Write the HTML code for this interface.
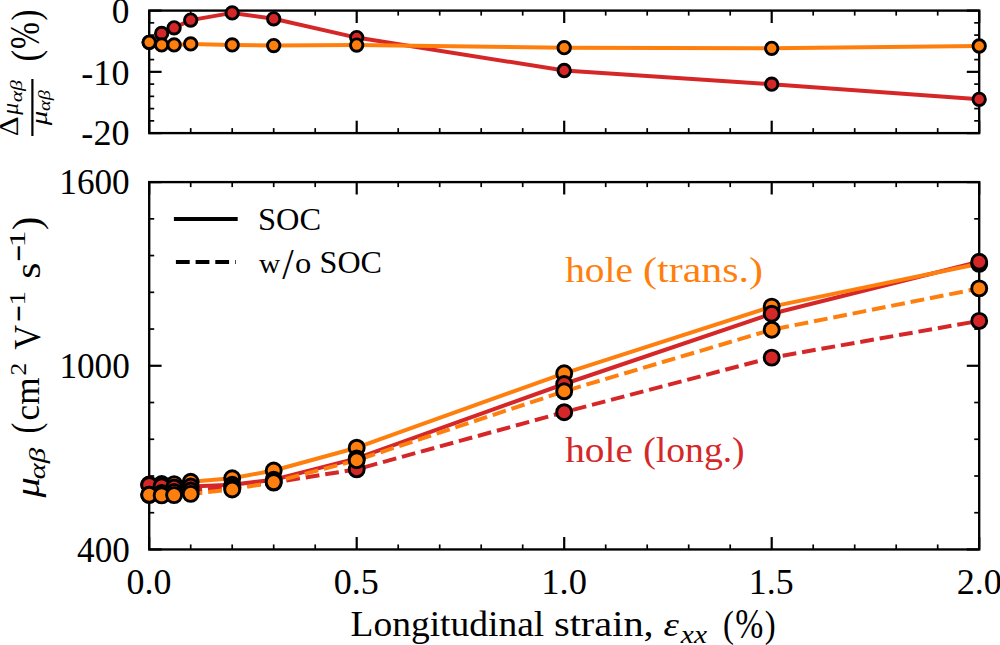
<!DOCTYPE html>
<html><head><meta charset="utf-8"><style>
html,body{margin:0;padding:0;background:#fff;}
body{width:1000px;height:645px;overflow:hidden;}
svg{display:block;}
text{font-family:"Liberation Serif",serif;font-kerning:none;}
.t{font-size:35px;}
.lg{font-size:30px;}
.fr{font-size:25px;}
</style></head><body>
<svg width="1000" height="645" viewBox="0 0 1000 645">
<line x1="149.20" y1="133.1" x2="149.20" y2="120.69999999999999" stroke="#000" stroke-width="2.2"/><line x1="149.20" y1="10.6" x2="149.20" y2="23.0" stroke="#000" stroke-width="2.2"/>
<line x1="190.70" y1="133.1" x2="190.70" y2="128.1" stroke="#000" stroke-width="1.7"/><line x1="190.70" y1="10.6" x2="190.70" y2="15.6" stroke="#000" stroke-width="1.7"/>
<line x1="232.20" y1="133.1" x2="232.20" y2="128.1" stroke="#000" stroke-width="1.7"/><line x1="232.20" y1="10.6" x2="232.20" y2="15.6" stroke="#000" stroke-width="1.7"/>
<line x1="273.70" y1="133.1" x2="273.70" y2="128.1" stroke="#000" stroke-width="1.7"/><line x1="273.70" y1="10.6" x2="273.70" y2="15.6" stroke="#000" stroke-width="1.7"/>
<line x1="315.20" y1="133.1" x2="315.20" y2="128.1" stroke="#000" stroke-width="1.7"/><line x1="315.20" y1="10.6" x2="315.20" y2="15.6" stroke="#000" stroke-width="1.7"/>
<line x1="356.70" y1="133.1" x2="356.70" y2="120.69999999999999" stroke="#000" stroke-width="2.2"/><line x1="356.70" y1="10.6" x2="356.70" y2="23.0" stroke="#000" stroke-width="2.2"/>
<line x1="398.20" y1="133.1" x2="398.20" y2="128.1" stroke="#000" stroke-width="1.7"/><line x1="398.20" y1="10.6" x2="398.20" y2="15.6" stroke="#000" stroke-width="1.7"/>
<line x1="439.70" y1="133.1" x2="439.70" y2="128.1" stroke="#000" stroke-width="1.7"/><line x1="439.70" y1="10.6" x2="439.70" y2="15.6" stroke="#000" stroke-width="1.7"/>
<line x1="481.20" y1="133.1" x2="481.20" y2="128.1" stroke="#000" stroke-width="1.7"/><line x1="481.20" y1="10.6" x2="481.20" y2="15.6" stroke="#000" stroke-width="1.7"/>
<line x1="522.70" y1="133.1" x2="522.70" y2="128.1" stroke="#000" stroke-width="1.7"/><line x1="522.70" y1="10.6" x2="522.70" y2="15.6" stroke="#000" stroke-width="1.7"/>
<line x1="564.20" y1="133.1" x2="564.20" y2="120.69999999999999" stroke="#000" stroke-width="2.2"/><line x1="564.20" y1="10.6" x2="564.20" y2="23.0" stroke="#000" stroke-width="2.2"/>
<line x1="605.70" y1="133.1" x2="605.70" y2="128.1" stroke="#000" stroke-width="1.7"/><line x1="605.70" y1="10.6" x2="605.70" y2="15.6" stroke="#000" stroke-width="1.7"/>
<line x1="647.20" y1="133.1" x2="647.20" y2="128.1" stroke="#000" stroke-width="1.7"/><line x1="647.20" y1="10.6" x2="647.20" y2="15.6" stroke="#000" stroke-width="1.7"/>
<line x1="688.70" y1="133.1" x2="688.70" y2="128.1" stroke="#000" stroke-width="1.7"/><line x1="688.70" y1="10.6" x2="688.70" y2="15.6" stroke="#000" stroke-width="1.7"/>
<line x1="730.20" y1="133.1" x2="730.20" y2="128.1" stroke="#000" stroke-width="1.7"/><line x1="730.20" y1="10.6" x2="730.20" y2="15.6" stroke="#000" stroke-width="1.7"/>
<line x1="771.70" y1="133.1" x2="771.70" y2="120.69999999999999" stroke="#000" stroke-width="2.2"/><line x1="771.70" y1="10.6" x2="771.70" y2="23.0" stroke="#000" stroke-width="2.2"/>
<line x1="813.20" y1="133.1" x2="813.20" y2="128.1" stroke="#000" stroke-width="1.7"/><line x1="813.20" y1="10.6" x2="813.20" y2="15.6" stroke="#000" stroke-width="1.7"/>
<line x1="854.70" y1="133.1" x2="854.70" y2="128.1" stroke="#000" stroke-width="1.7"/><line x1="854.70" y1="10.6" x2="854.70" y2="15.6" stroke="#000" stroke-width="1.7"/>
<line x1="896.20" y1="133.1" x2="896.20" y2="128.1" stroke="#000" stroke-width="1.7"/><line x1="896.20" y1="10.6" x2="896.20" y2="15.6" stroke="#000" stroke-width="1.7"/>
<line x1="937.70" y1="133.1" x2="937.70" y2="128.1" stroke="#000" stroke-width="1.7"/><line x1="937.70" y1="10.6" x2="937.70" y2="15.6" stroke="#000" stroke-width="1.7"/>
<line x1="979.20" y1="133.1" x2="979.20" y2="120.69999999999999" stroke="#000" stroke-width="2.2"/><line x1="979.20" y1="10.6" x2="979.20" y2="23.0" stroke="#000" stroke-width="2.2"/>
<line x1="149.2" y1="10.60" x2="161.6" y2="10.60" stroke="#000" stroke-width="2.2"/><line x1="979.2" y1="10.60" x2="966.8000000000001" y2="10.60" stroke="#000" stroke-width="2.2"/>
<line x1="149.2" y1="71.85" x2="161.6" y2="71.85" stroke="#000" stroke-width="2.2"/><line x1="979.2" y1="71.85" x2="966.8000000000001" y2="71.85" stroke="#000" stroke-width="2.2"/>
<line x1="149.2" y1="133.10" x2="161.6" y2="133.10" stroke="#000" stroke-width="2.2"/><line x1="979.2" y1="133.10" x2="966.8000000000001" y2="133.10" stroke="#000" stroke-width="2.2"/>
<line x1="149.2" y1="22.85" x2="154.2" y2="22.85" stroke="#000" stroke-width="1.7"/><line x1="979.2" y1="22.85" x2="974.2" y2="22.85" stroke="#000" stroke-width="1.7"/>
<line x1="149.2" y1="35.10" x2="154.2" y2="35.10" stroke="#000" stroke-width="1.7"/><line x1="979.2" y1="35.10" x2="974.2" y2="35.10" stroke="#000" stroke-width="1.7"/>
<line x1="149.2" y1="47.35" x2="154.2" y2="47.35" stroke="#000" stroke-width="1.7"/><line x1="979.2" y1="47.35" x2="974.2" y2="47.35" stroke="#000" stroke-width="1.7"/>
<line x1="149.2" y1="59.60" x2="154.2" y2="59.60" stroke="#000" stroke-width="1.7"/><line x1="979.2" y1="59.60" x2="974.2" y2="59.60" stroke="#000" stroke-width="1.7"/>
<line x1="149.2" y1="84.10" x2="154.2" y2="84.10" stroke="#000" stroke-width="1.7"/><line x1="979.2" y1="84.10" x2="974.2" y2="84.10" stroke="#000" stroke-width="1.7"/>
<line x1="149.2" y1="96.35" x2="154.2" y2="96.35" stroke="#000" stroke-width="1.7"/><line x1="979.2" y1="96.35" x2="974.2" y2="96.35" stroke="#000" stroke-width="1.7"/>
<line x1="149.2" y1="108.60" x2="154.2" y2="108.60" stroke="#000" stroke-width="1.7"/><line x1="979.2" y1="108.60" x2="974.2" y2="108.60" stroke="#000" stroke-width="1.7"/>
<line x1="149.2" y1="120.85" x2="154.2" y2="120.85" stroke="#000" stroke-width="1.7"/><line x1="979.2" y1="120.85" x2="974.2" y2="120.85" stroke="#000" stroke-width="1.7"/>
<line x1="149.20" y1="549.45" x2="149.20" y2="537.0500000000001" stroke="#000" stroke-width="2.2"/><line x1="149.20" y1="182.1" x2="149.20" y2="194.5" stroke="#000" stroke-width="2.2"/>
<line x1="190.70" y1="549.45" x2="190.70" y2="544.45" stroke="#000" stroke-width="1.7"/><line x1="190.70" y1="182.1" x2="190.70" y2="187.1" stroke="#000" stroke-width="1.7"/>
<line x1="232.20" y1="549.45" x2="232.20" y2="544.45" stroke="#000" stroke-width="1.7"/><line x1="232.20" y1="182.1" x2="232.20" y2="187.1" stroke="#000" stroke-width="1.7"/>
<line x1="273.70" y1="549.45" x2="273.70" y2="544.45" stroke="#000" stroke-width="1.7"/><line x1="273.70" y1="182.1" x2="273.70" y2="187.1" stroke="#000" stroke-width="1.7"/>
<line x1="315.20" y1="549.45" x2="315.20" y2="544.45" stroke="#000" stroke-width="1.7"/><line x1="315.20" y1="182.1" x2="315.20" y2="187.1" stroke="#000" stroke-width="1.7"/>
<line x1="356.70" y1="549.45" x2="356.70" y2="537.0500000000001" stroke="#000" stroke-width="2.2"/><line x1="356.70" y1="182.1" x2="356.70" y2="194.5" stroke="#000" stroke-width="2.2"/>
<line x1="398.20" y1="549.45" x2="398.20" y2="544.45" stroke="#000" stroke-width="1.7"/><line x1="398.20" y1="182.1" x2="398.20" y2="187.1" stroke="#000" stroke-width="1.7"/>
<line x1="439.70" y1="549.45" x2="439.70" y2="544.45" stroke="#000" stroke-width="1.7"/><line x1="439.70" y1="182.1" x2="439.70" y2="187.1" stroke="#000" stroke-width="1.7"/>
<line x1="481.20" y1="549.45" x2="481.20" y2="544.45" stroke="#000" stroke-width="1.7"/><line x1="481.20" y1="182.1" x2="481.20" y2="187.1" stroke="#000" stroke-width="1.7"/>
<line x1="522.70" y1="549.45" x2="522.70" y2="544.45" stroke="#000" stroke-width="1.7"/><line x1="522.70" y1="182.1" x2="522.70" y2="187.1" stroke="#000" stroke-width="1.7"/>
<line x1="564.20" y1="549.45" x2="564.20" y2="537.0500000000001" stroke="#000" stroke-width="2.2"/><line x1="564.20" y1="182.1" x2="564.20" y2="194.5" stroke="#000" stroke-width="2.2"/>
<line x1="605.70" y1="549.45" x2="605.70" y2="544.45" stroke="#000" stroke-width="1.7"/><line x1="605.70" y1="182.1" x2="605.70" y2="187.1" stroke="#000" stroke-width="1.7"/>
<line x1="647.20" y1="549.45" x2="647.20" y2="544.45" stroke="#000" stroke-width="1.7"/><line x1="647.20" y1="182.1" x2="647.20" y2="187.1" stroke="#000" stroke-width="1.7"/>
<line x1="688.70" y1="549.45" x2="688.70" y2="544.45" stroke="#000" stroke-width="1.7"/><line x1="688.70" y1="182.1" x2="688.70" y2="187.1" stroke="#000" stroke-width="1.7"/>
<line x1="730.20" y1="549.45" x2="730.20" y2="544.45" stroke="#000" stroke-width="1.7"/><line x1="730.20" y1="182.1" x2="730.20" y2="187.1" stroke="#000" stroke-width="1.7"/>
<line x1="771.70" y1="549.45" x2="771.70" y2="537.0500000000001" stroke="#000" stroke-width="2.2"/><line x1="771.70" y1="182.1" x2="771.70" y2="194.5" stroke="#000" stroke-width="2.2"/>
<line x1="813.20" y1="549.45" x2="813.20" y2="544.45" stroke="#000" stroke-width="1.7"/><line x1="813.20" y1="182.1" x2="813.20" y2="187.1" stroke="#000" stroke-width="1.7"/>
<line x1="854.70" y1="549.45" x2="854.70" y2="544.45" stroke="#000" stroke-width="1.7"/><line x1="854.70" y1="182.1" x2="854.70" y2="187.1" stroke="#000" stroke-width="1.7"/>
<line x1="896.20" y1="549.45" x2="896.20" y2="544.45" stroke="#000" stroke-width="1.7"/><line x1="896.20" y1="182.1" x2="896.20" y2="187.1" stroke="#000" stroke-width="1.7"/>
<line x1="937.70" y1="549.45" x2="937.70" y2="544.45" stroke="#000" stroke-width="1.7"/><line x1="937.70" y1="182.1" x2="937.70" y2="187.1" stroke="#000" stroke-width="1.7"/>
<line x1="979.20" y1="549.45" x2="979.20" y2="537.0500000000001" stroke="#000" stroke-width="2.2"/><line x1="979.20" y1="182.1" x2="979.20" y2="194.5" stroke="#000" stroke-width="2.2"/>
<line x1="149.2" y1="549.45" x2="161.6" y2="549.45" stroke="#000" stroke-width="2.2"/><line x1="979.2" y1="549.45" x2="966.8000000000001" y2="549.45" stroke="#000" stroke-width="2.2"/>
<line x1="149.2" y1="365.78" x2="161.6" y2="365.78" stroke="#000" stroke-width="2.2"/><line x1="979.2" y1="365.78" x2="966.8000000000001" y2="365.78" stroke="#000" stroke-width="2.2"/>
<line x1="149.2" y1="182.10" x2="161.6" y2="182.10" stroke="#000" stroke-width="2.2"/><line x1="979.2" y1="182.10" x2="966.8000000000001" y2="182.10" stroke="#000" stroke-width="2.2"/>
<line x1="149.2" y1="512.72" x2="154.2" y2="512.72" stroke="#000" stroke-width="1.7"/><line x1="979.2" y1="512.72" x2="974.2" y2="512.72" stroke="#000" stroke-width="1.7"/>
<line x1="149.2" y1="475.98" x2="154.2" y2="475.98" stroke="#000" stroke-width="1.7"/><line x1="979.2" y1="475.98" x2="974.2" y2="475.98" stroke="#000" stroke-width="1.7"/>
<line x1="149.2" y1="439.25" x2="154.2" y2="439.25" stroke="#000" stroke-width="1.7"/><line x1="979.2" y1="439.25" x2="974.2" y2="439.25" stroke="#000" stroke-width="1.7"/>
<line x1="149.2" y1="402.51" x2="154.2" y2="402.51" stroke="#000" stroke-width="1.7"/><line x1="979.2" y1="402.51" x2="974.2" y2="402.51" stroke="#000" stroke-width="1.7"/>
<line x1="149.2" y1="329.04" x2="154.2" y2="329.04" stroke="#000" stroke-width="1.7"/><line x1="979.2" y1="329.04" x2="974.2" y2="329.04" stroke="#000" stroke-width="1.7"/>
<line x1="149.2" y1="292.31" x2="154.2" y2="292.31" stroke="#000" stroke-width="1.7"/><line x1="979.2" y1="292.31" x2="974.2" y2="292.31" stroke="#000" stroke-width="1.7"/>
<line x1="149.2" y1="255.57" x2="154.2" y2="255.57" stroke="#000" stroke-width="1.7"/><line x1="979.2" y1="255.57" x2="974.2" y2="255.57" stroke="#000" stroke-width="1.7"/>
<line x1="149.2" y1="218.84" x2="154.2" y2="218.84" stroke="#000" stroke-width="1.7"/><line x1="979.2" y1="218.84" x2="974.2" y2="218.84" stroke="#000" stroke-width="1.7"/>
<rect x="149.2" y="10.6" width="830.0" height="122.5" fill="none" stroke="#000" stroke-width="2.35" stroke-linejoin="miter"/>
<rect x="149.2" y="182.1" width="830.0" height="367.35" fill="none" stroke="#000" stroke-width="2.35" stroke-linejoin="miter"/>
<polyline points="149.20,42.30 161.65,33.40 174.10,27.80 190.70,20.10 232.20,12.90 273.70,18.80 356.70,37.60 564.20,70.50 771.70,84.20 979.20,99.30" fill="none" stroke="#d62728" stroke-width="4.0" stroke-linejoin="round" stroke-linecap="round"/>
<polyline points="149.20,42.30 161.65,44.90 174.10,44.90 190.70,43.90 232.20,44.90 273.70,45.60 356.70,45.10 564.20,47.70 771.70,48.35 979.20,46.00" fill="none" stroke="#ff7f0e" stroke-width="4.0" stroke-linejoin="round" stroke-linecap="round"/>
<circle cx="149.20" cy="42.30" r="6.2" fill="#d62728" stroke="#000" stroke-width="2.9"/>
<circle cx="161.65" cy="33.40" r="6.2" fill="#d62728" stroke="#000" stroke-width="2.9"/>
<circle cx="174.10" cy="27.80" r="6.2" fill="#d62728" stroke="#000" stroke-width="2.9"/>
<circle cx="190.70" cy="20.10" r="6.2" fill="#d62728" stroke="#000" stroke-width="2.9"/>
<circle cx="232.20" cy="12.90" r="6.2" fill="#d62728" stroke="#000" stroke-width="2.9"/>
<circle cx="273.70" cy="18.80" r="6.2" fill="#d62728" stroke="#000" stroke-width="2.9"/>
<circle cx="356.70" cy="37.60" r="6.2" fill="#d62728" stroke="#000" stroke-width="2.9"/>
<circle cx="564.20" cy="70.50" r="6.2" fill="#d62728" stroke="#000" stroke-width="2.9"/>
<circle cx="771.70" cy="84.20" r="6.2" fill="#d62728" stroke="#000" stroke-width="2.9"/>
<circle cx="979.20" cy="99.30" r="6.2" fill="#d62728" stroke="#000" stroke-width="2.9"/>
<circle cx="149.20" cy="42.30" r="6.2" fill="#ff7f0e" stroke="#000" stroke-width="2.9"/>
<circle cx="161.65" cy="44.90" r="6.2" fill="#ff7f0e" stroke="#000" stroke-width="2.9"/>
<circle cx="174.10" cy="44.90" r="6.2" fill="#ff7f0e" stroke="#000" stroke-width="2.9"/>
<circle cx="190.70" cy="43.90" r="6.2" fill="#ff7f0e" stroke="#000" stroke-width="2.9"/>
<circle cx="232.20" cy="44.90" r="6.2" fill="#ff7f0e" stroke="#000" stroke-width="2.9"/>
<circle cx="273.70" cy="45.60" r="6.2" fill="#ff7f0e" stroke="#000" stroke-width="2.9"/>
<circle cx="356.70" cy="45.10" r="6.2" fill="#ff7f0e" stroke="#000" stroke-width="2.9"/>
<circle cx="564.20" cy="47.70" r="6.2" fill="#ff7f0e" stroke="#000" stroke-width="2.9"/>
<circle cx="771.70" cy="48.35" r="6.2" fill="#ff7f0e" stroke="#000" stroke-width="2.9"/>
<circle cx="979.20" cy="46.00" r="6.2" fill="#ff7f0e" stroke="#000" stroke-width="2.9"/>
<polyline points="149.20,485.00 161.65,486.20 174.10,487.50 190.70,486.50 232.20,484.80 273.70,479.70 356.70,458.40 564.20,384.00 771.70,313.70 979.20,261.80" fill="none" stroke="#d62728" stroke-width="4.0" stroke-linejoin="round" stroke-linecap="round"/>
<polyline points="149.20,484.50 161.65,484.00 174.10,484.10 190.70,481.80 232.20,478.30 273.70,470.50 356.70,447.70 564.20,373.30 771.70,306.60 979.20,263.80" fill="none" stroke="#ff7f0e" stroke-width="4.0" stroke-linejoin="round" stroke-linecap="round"/>
<polyline points="149.20,494.80 161.65,493.00 174.10,492.00 190.70,490.50 232.20,487.50 273.70,482.60 356.70,469.30 564.20,412.20 771.70,357.60 979.20,320.90" fill="none" stroke="#d62728" stroke-width="4.0" stroke-linejoin="round" stroke-linecap="butt" stroke-dasharray="13.8 5.9"/>
<polyline points="149.20,494.80 161.65,495.40 174.10,495.10 190.70,493.90 232.20,489.50 273.70,482.10 356.70,460.20 564.20,391.30 771.70,329.70 979.20,288.40" fill="none" stroke="#ff7f0e" stroke-width="4.0" stroke-linejoin="round" stroke-linecap="butt" stroke-dasharray="13.8 5.9"/>
<circle cx="149.20" cy="484.50" r="7.5" fill="#ff7f0e" stroke="#000" stroke-width="2.9"/>
<circle cx="161.65" cy="484.00" r="7.5" fill="#ff7f0e" stroke="#000" stroke-width="2.9"/>
<circle cx="174.10" cy="484.10" r="7.5" fill="#ff7f0e" stroke="#000" stroke-width="2.9"/>
<circle cx="190.70" cy="481.80" r="7.5" fill="#ff7f0e" stroke="#000" stroke-width="2.9"/>
<circle cx="232.20" cy="478.30" r="7.5" fill="#ff7f0e" stroke="#000" stroke-width="2.9"/>
<circle cx="273.70" cy="470.50" r="7.5" fill="#ff7f0e" stroke="#000" stroke-width="2.9"/>
<circle cx="356.70" cy="447.70" r="7.5" fill="#ff7f0e" stroke="#000" stroke-width="2.9"/>
<circle cx="564.20" cy="373.30" r="7.5" fill="#ff7f0e" stroke="#000" stroke-width="2.9"/>
<circle cx="771.70" cy="306.60" r="7.5" fill="#ff7f0e" stroke="#000" stroke-width="2.9"/>
<circle cx="979.20" cy="263.80" r="7.5" fill="#ff7f0e" stroke="#000" stroke-width="2.9"/>
<circle cx="149.20" cy="485.00" r="7.5" fill="#d62728" stroke="#000" stroke-width="2.9"/>
<circle cx="161.65" cy="486.20" r="7.5" fill="#d62728" stroke="#000" stroke-width="2.9"/>
<circle cx="174.10" cy="487.50" r="7.5" fill="#d62728" stroke="#000" stroke-width="2.9"/>
<circle cx="190.70" cy="486.50" r="7.5" fill="#d62728" stroke="#000" stroke-width="2.9"/>
<circle cx="232.20" cy="484.80" r="7.5" fill="#d62728" stroke="#000" stroke-width="2.9"/>
<circle cx="273.70" cy="479.70" r="7.5" fill="#d62728" stroke="#000" stroke-width="2.9"/>
<circle cx="356.70" cy="458.40" r="7.5" fill="#d62728" stroke="#000" stroke-width="2.9"/>
<circle cx="564.20" cy="384.00" r="7.5" fill="#d62728" stroke="#000" stroke-width="2.9"/>
<circle cx="771.70" cy="313.70" r="7.5" fill="#d62728" stroke="#000" stroke-width="2.9"/>
<circle cx="979.20" cy="261.80" r="7.5" fill="#d62728" stroke="#000" stroke-width="2.9"/>
<circle cx="149.20" cy="494.80" r="7.5" fill="#d62728" stroke="#000" stroke-width="2.9"/>
<circle cx="161.65" cy="493.00" r="7.5" fill="#d62728" stroke="#000" stroke-width="2.9"/>
<circle cx="174.10" cy="492.00" r="7.5" fill="#d62728" stroke="#000" stroke-width="2.9"/>
<circle cx="190.70" cy="490.50" r="7.5" fill="#d62728" stroke="#000" stroke-width="2.9"/>
<circle cx="232.20" cy="487.50" r="7.5" fill="#d62728" stroke="#000" stroke-width="2.9"/>
<circle cx="273.70" cy="482.60" r="7.5" fill="#d62728" stroke="#000" stroke-width="2.9"/>
<circle cx="356.70" cy="469.30" r="7.5" fill="#d62728" stroke="#000" stroke-width="2.9"/>
<circle cx="564.20" cy="412.20" r="7.5" fill="#d62728" stroke="#000" stroke-width="2.9"/>
<circle cx="771.70" cy="357.60" r="7.5" fill="#d62728" stroke="#000" stroke-width="2.9"/>
<circle cx="979.20" cy="320.90" r="7.5" fill="#d62728" stroke="#000" stroke-width="2.9"/>
<circle cx="149.20" cy="494.80" r="7.5" fill="#ff7f0e" stroke="#000" stroke-width="2.9"/>
<circle cx="161.65" cy="495.40" r="7.5" fill="#ff7f0e" stroke="#000" stroke-width="2.9"/>
<circle cx="174.10" cy="495.10" r="7.5" fill="#ff7f0e" stroke="#000" stroke-width="2.9"/>
<circle cx="190.70" cy="493.90" r="7.5" fill="#ff7f0e" stroke="#000" stroke-width="2.9"/>
<circle cx="232.20" cy="489.50" r="7.5" fill="#ff7f0e" stroke="#000" stroke-width="2.9"/>
<circle cx="273.70" cy="482.10" r="7.5" fill="#ff7f0e" stroke="#000" stroke-width="2.9"/>
<circle cx="356.70" cy="460.20" r="7.5" fill="#ff7f0e" stroke="#000" stroke-width="2.9"/>
<circle cx="564.20" cy="391.30" r="7.5" fill="#ff7f0e" stroke="#000" stroke-width="2.9"/>
<circle cx="771.70" cy="329.70" r="7.5" fill="#ff7f0e" stroke="#000" stroke-width="2.9"/>
<circle cx="979.20" cy="288.40" r="7.5" fill="#ff7f0e" stroke="#000" stroke-width="2.9"/>
<line x1="175.9" y1="219" x2="235.7" y2="219" stroke="#000" stroke-width="4.0" stroke-linecap="square"/>
<line x1="175.9" y1="262.1" x2="235.7" y2="262.1" stroke="#000" stroke-width="4.0" stroke-dasharray="13.8 5.9"/>

<text transform="translate(111.65,23.35) scale(1.0112,1.0162)" fill="#000"><tspan font-size="35">0</tspan></text>
<text transform="translate(81.36,84.65) scale(1.0313,1.0331)" fill="#000"><tspan font-size="35">-10</tspan></text>
<text transform="translate(81.36,145.36) scale(1.0313,1.0035)" fill="#000"><tspan font-size="35">-20</tspan></text>
<text transform="translate(59.30,194.45) scale(1.0062,1.0162)" fill="#000"><tspan font-size="35">1600</tspan></text>
<text transform="translate(59.40,378.15) scale(1.0062,1.0162)" fill="#000"><tspan font-size="35">1000</tspan></text>
<text transform="translate(77.11,562.15) scale(1.0043,1.0289)" fill="#000"><tspan font-size="35">400</tspan></text>
<text transform="translate(126.43,593.89) scale(1.0272,1.0222)" fill="#000"><tspan font-size="35">0.0</tspan></text>
<text transform="translate(333.73,593.89) scale(1.0305,1.0222)" fill="#000"><tspan font-size="35">0.5</tspan></text>
<text transform="translate(541.29,593.89) scale(1.0422,1.0222)" fill="#000"><tspan font-size="35">1.0</tspan></text>
<text transform="translate(748.85,593.89) scale(1.0227,1.0296)" fill="#000"><tspan font-size="35">1.5</tspan></text>
<text transform="translate(956.71,593.89) scale(1.0323,1.0222)" fill="#000"><tspan font-size="35">2.0</tspan></text>
<text transform="translate(350.52,636.40) scale(1.0715,1.0000)" fill="#000"><tspan font-size="35">Longitudinal</tspan></text>
<text transform="translate(553.94,636.40) scale(1.1536,1.0000)" fill="#000"><tspan font-size="35">strain,</tspan></text>
<text transform="translate(663.41,636.46) scale(1.1149,0.9802)" fill="#000"><tspan font-size="35" font-style="italic">ε</tspan></text>
<text transform="translate(680.86,642.50) scale(1.2004,1.0227)" fill="#000"><tspan font-size="24.5" font-style="italic">xx</tspan></text>
<text transform="translate(723.06,636.96) scale(0.9344,1.1060)" fill="#000"><tspan font-size="35">(</tspan></text>
<text transform="translate(735.25,637.65) scale(0.9640,1.1838)" fill="#000"><tspan font-size="35">%</tspan></text>
<text transform="translate(764.65,636.96) scale(0.9344,1.1060)" fill="#000"><tspan font-size="35">)</tspan></text>
<text transform="translate(257.93,230.18) scale(1.0474,1.0467)" fill="#000"><tspan font-size="31">SOC</tspan></text>
<text transform="translate(319.55,273.18) scale(1.0350,1.0419)" fill="#000"><tspan font-size="31">SOC</tspan></text>
<text transform="translate(258.97,272.62) scale(0.9496,0.9153)" fill="#000"><tspan font-size="31">w</tspan></text>
<text transform="translate(282.30,279.27) scale(1.3236,1.4322)" fill="#000"><tspan font-size="31">/</tspan></text>
<text transform="translate(294.96,272.62) scale(1.0503,0.9323)" fill="#000"><tspan font-size="31">o</tspan></text>
<text transform="translate(565.22,281.80) scale(1.0914,1.0000)" fill="#ff7f0e"><tspan font-size="36">hole</tspan></text>
<text transform="translate(643.06,281.80) scale(1.1659,1.0000)" fill="#ff7f0e"><tspan font-size="36">(trans.)</tspan></text>
<text transform="translate(565.22,461.80) scale(1.0914,1.0000)" fill="#d62728"><tspan font-size="36">hole</tspan></text>
<text transform="translate(643.25,461.80) scale(1.0457,1.0000)" fill="#d62728"><tspan font-size="36">(long.)</tspan></text>
<g transform="rotate(-90)"><text transform="translate(-497.56,39.49) scale(1.1557,0.9894)" fill="#000"><tspan font-size="35" font-style="italic">μ</tspan></text></g>
<g transform="rotate(-90)"><text transform="translate(-479.52,44.85) scale(1.2635,0.9303)" fill="#000"><tspan font-size="24.5" font-style="italic">αβ</tspan></text></g>
<g transform="rotate(-90)"><text transform="translate(-433.54,39.49) scale(0.9344,1.1155)" fill="#000"><tspan font-size="35">(</tspan></text></g>
<g transform="rotate(-90)"><text transform="translate(-420.44,39.26) scale(1.0030,1.0040)" fill="#000"><tspan font-size="35">cm</tspan></text></g>
<g transform="rotate(-90)"><text transform="translate(-375.52,25.50) scale(1.0385,0.9771)" fill="#000"><tspan font-size="24.5">2</tspan></text></g>
<g transform="rotate(-90)"><text transform="translate(-349.69,39.73) scale(0.9882,1.0705)" fill="#000"><tspan font-size="35">V</tspan></text></g>
<g transform="rotate(-90)"><text transform="translate(-321.98,34.48) scale(1.2105,1.8849)" fill="#000"><tspan font-size="24.5">−</tspan></text></g>
<g transform="rotate(-90)"><text transform="translate(-305.55,25.10) scale(1.1826,0.9212)" fill="#000"><tspan font-size="24.5">1</tspan></text></g>
<g transform="rotate(-90)"><text transform="translate(-278.71,39.65) scale(1.1904,1.0277)" fill="#000"><tspan font-size="35">s</tspan></text></g>
<g transform="rotate(-90)"><text transform="translate(-261.69,34.48) scale(1.2192,1.8849)" fill="#000"><tspan font-size="24.5">−</tspan></text></g>
<g transform="rotate(-90)"><text transform="translate(-247.42,25.10) scale(1.4029,0.9212)" fill="#000"><tspan font-size="24.5">1</tspan></text></g>
<g transform="rotate(-90)"><text transform="translate(-229.88,39.89) scale(1.1347,1.1155)" fill="#000"><tspan font-size="35">)</tspan></text></g>
<g transform="rotate(-90)"><text transform="translate(-20.45,38.59) scale(0.9344,1.1155)" fill="#000"><tspan font-size="35">)</tspan></text></g>
<g transform="rotate(-90)"><text transform="translate(-48.90,39.36) scale(0.9229,1.1753)" fill="#000"><tspan font-size="35">%</tspan></text></g>
<g transform="rotate(-90)"><text transform="translate(-61.42,38.59) scale(0.9901,1.1155)" fill="#000"><tspan font-size="35">(</tspan></text></g>
<g transform="rotate(-90)"><text transform="translate(-136.17,17.90) scale(1.2589,1.0758)" fill="#000"><tspan font-size="24.5">Δ</tspan></text></g>
<g transform="rotate(-90)"><text transform="translate(-114.78,17.58) scale(0.9645,0.9767)" fill="#000"><tspan font-size="24.5" font-style="italic">μ</tspan></text></g>
<g transform="rotate(-90)"><text transform="translate(-102.35,21.58) scale(1.2872,1.0007)" fill="#000"><tspan font-size="17" font-style="italic">αβ</tspan></text></g>
<rect x="31.3" y="79" width="2.2" height="57" fill="#000"/>
<g transform="rotate(-90)"><text transform="translate(-125.37,46.68) scale(1.1818,0.9585)" fill="#000"><tspan font-size="24.5" font-style="italic">μ</tspan></text></g>
<g transform="rotate(-90)"><text transform="translate(-110.91,50.08) scale(1.1982,1.0007)" fill="#000"><tspan font-size="17" font-style="italic">αβ</tspan></text></g>

</svg>
</body></html>
